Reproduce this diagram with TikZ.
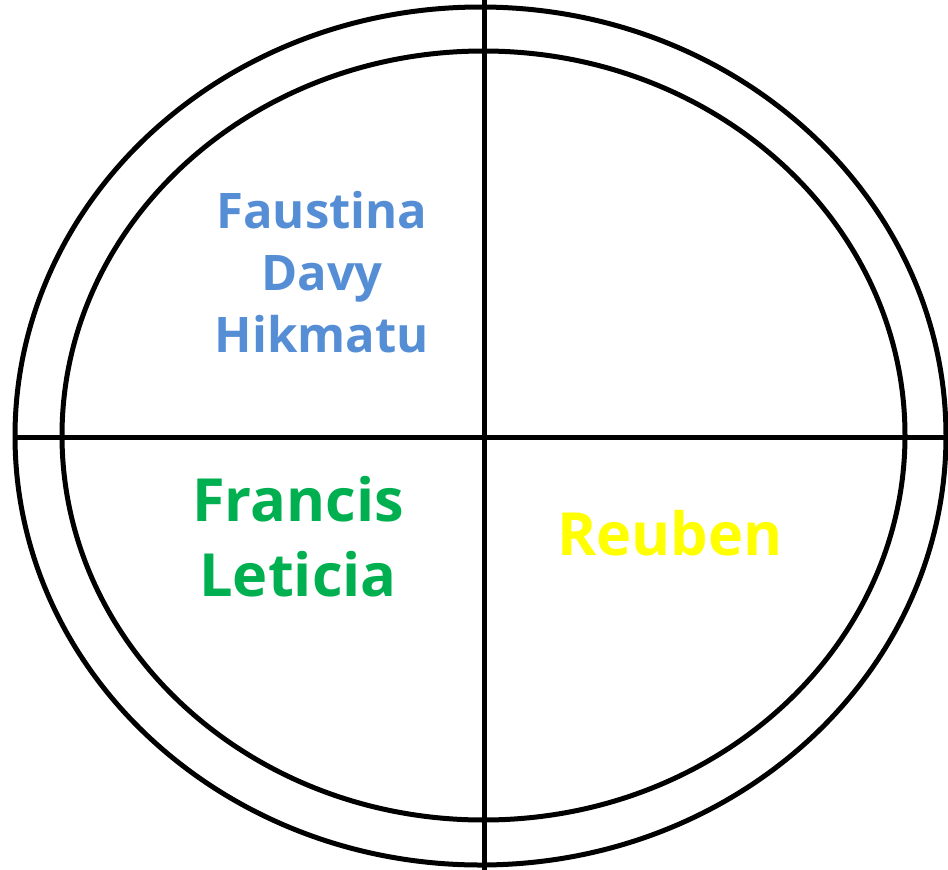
\documentclass[tikz,border=0pt]{standalone}
\usepackage{fontspec}
\setmainfont{Open Sans}
\usetikzlibrary{positioning}
\definecolor{nameblue}{RGB}{85,142,213}
\definecolor{namegreen}{RGB}{0,176,80}
\definecolor{nameyellow}{RGB}{255,255,0}

\begin{document}
\begin{tikzpicture}[
  x=1pt,y=-1pt,
  ring/.style={draw=black,line width=5pt},
  divider/.style={draw=black,line width=5pt},
  names/.style={align=center,inner sep=0pt},
  small names/.style={names,font=\fontsize{49}{62}\selectfont\bfseries},
  big names/.style={names,font=\fontsize{59.5}{75}\selectfont\bfseries}
]
\useasboundingbox (0,0) rectangle (948,870);
% outer and inner rings
\draw[ring] (480.5,436) ellipse [x radius=465.5, y radius=429];
\draw[ring] (483.5,435.5) ellipse [x radius=421.5, y radius=384.5];
% quadrant lines
\coordinate (top) at (484,0);
\coordinate (bottom) at (484,870);
\coordinate (left) at (14,437);
\coordinate (right) at (948,437);
\draw[divider] (top) -- (bottom);
\draw[divider] (left) -- (right);
% names in the quadrants
\node[small names,text=nameblue] (faustina) at (322,272) {Faustina\\Davy\\Hikmatu};
\node[big names,text=namegreen] (francis) at (298,537) {Francis\\Leticia};
\node[big names,text=nameyellow] (reuben) at (670,533) {Reuben};
\end{tikzpicture}
\end{document}
